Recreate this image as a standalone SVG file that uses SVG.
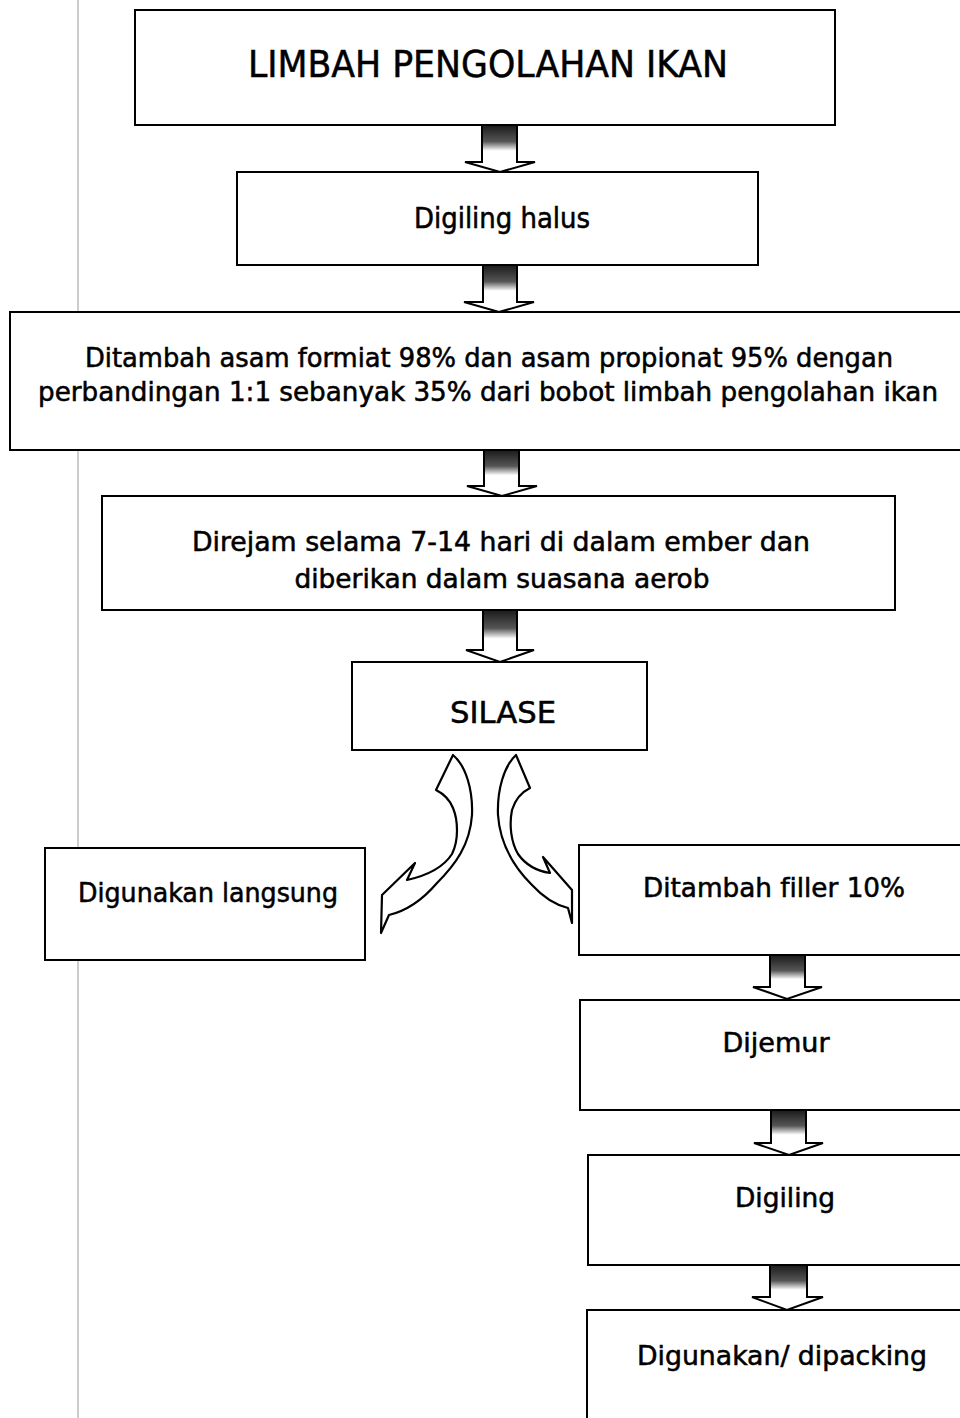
<svg xmlns="http://www.w3.org/2000/svg" width="960" height="1418" viewBox="0 0 960 1418">
<style>
.box{fill:#fff;stroke:#000;stroke-width:2}
.t{font-family:"DejaVu Sans Condensed","DejaVu Sans",sans-serif;fill:#000;stroke:#000;stroke-width:0.5;text-anchor:middle;font-size:26px;font-variant-ligatures:none}
.arr{fill:url(#g);stroke:#000;stroke-width:2;stroke-linejoin:miter}
.carr{fill:#fff;stroke:#000;stroke-width:2.2;stroke-linejoin:round}
</style>
<defs>
<linearGradient id="g" x1="0" y1="0" x2="0" y2="1">
<stop offset="0" stop-color="#1a1a1a"/>
<stop offset="0.35" stop-color="#555"/>
<stop offset="0.55" stop-color="#fff"/>
<stop offset="1" stop-color="#fff"/>
</linearGradient>
</defs>
<rect width="960" height="1418" fill="#fff"/>
<line x1="78" y1="0" x2="78" y2="1418" stroke="#999" stroke-width="1"/>

<g id="n1"><rect class="box" x="135" y="10" width="700" height="115"/><text class="t" x="488" y="77" style="font-size:38px" textLength="480" lengthAdjust="spacingAndGlyphs">LIMBAH PENGOLAHAN IKAN</text></g>
<g id="n2"><rect class="box" x="237" y="172" width="521" height="93"/><text class="t" x="502" y="228" style="font-size:28px" textLength="176" lengthAdjust="spacingAndGlyphs">Digiling halus</text></g>
<g id="n3"><rect class="box" x="10" y="312" width="960" height="138"/><text class="t" x="489" y="367" textLength="808" lengthAdjust="spacingAndGlyphs">Ditambah asam formiat 98% dan asam propionat 95% dengan</text><text class="t" x="488" y="401" textLength="900" lengthAdjust="spacingAndGlyphs">perbandingan 1:1 sebanyak 35% dari bobot limbah pengolahan ikan</text></g>
<g id="n4"><rect class="box" x="102" y="496" width="793" height="114"/><text class="t" x="501" y="551" textLength="618" lengthAdjust="spacingAndGlyphs">Direjam selama 7-14 hari di dalam ember dan</text><text class="t" x="502" y="588" textLength="415" lengthAdjust="spacingAndGlyphs">diberikan dalam suasana aerob</text></g>
<g id="n5"><rect class="box" x="352" y="662" width="295" height="88"/><text class="t" x="503" y="723" style="font-size:31px" textLength="106" lengthAdjust="spacingAndGlyphs">SILASE</text></g>
<g id="n6"><rect class="box" x="45" y="848" width="320" height="112"/><text class="t" x="208" y="902" textLength="260" lengthAdjust="spacingAndGlyphs">Digunakan langsung</text></g>
<g id="n7"><rect class="box" x="579" y="845" width="391" height="110"/><text class="t" x="774" y="897" textLength="262" lengthAdjust="spacingAndGlyphs">Ditambah filler 10%</text></g>
<g id="n8"><rect class="box" x="580" y="1000" width="390" height="110"/><text class="t" x="776" y="1052" textLength="107" lengthAdjust="spacingAndGlyphs">Dijemur</text></g>
<g id="n9"><rect class="box" x="588" y="1155" width="382" height="110"/><text class="t" x="785" y="1207" textLength="100" lengthAdjust="spacingAndGlyphs">Digiling</text></g>
<g id="n10"><rect class="box" x="587" y="1310" width="383" height="120"/><text class="t" x="782" y="1365" textLength="290" lengthAdjust="spacingAndGlyphs">Digunakan/ dipacking</text></g>

<g id="connectors">
<path class="arr" d="M482,125 L482,162 L465,162 L500,172 L535,162 L517,162 L517,125 Z"/>
<path class="arr" d="M483,265 L483,302 L464,302 L499,312 L534,302 L517,302 L517,265 Z"/>
<path class="arr" d="M484,450 L484,486 L467,486 L502,496 L537,486 L519,486 L519,450 Z"/>
<path class="arr" d="M483,610 L483,650 L466,650 L500,662 L534,650 L517,650 L517,610 Z"/>
<path class="arr" d="M770,955 L770,987 L753,987 L787,999 L822,987 L805,987 L805,955 Z"/>
<path class="arr" d="M771,1110 L771,1143 L754,1143 L789,1155 L823,1143 L806,1143 L806,1110 Z"/>
<path class="arr" d="M770,1265 L770,1297 L752,1297 L787,1310 L823,1297 L807,1297 L807,1265 Z"/>
<path class="carr" d="M453,755 C466,766 473,790 472,815 C470,845 455,865 437,883 C425,897 410,910 389,915 L381,933 L382,895 L415,863 L407,880 C425,876 443,868 452,854 C459,840 458,820 453,808 C449,798 442,793 436,790 Z"/>
<path class="carr" d="M516,755 C504,766 497,790 498,815 C500,845 515,868 532,885 C543,897 556,905 568,908 L572,923 L572,890 L543,857 L550,873 C537,871 525,864 518,854 C511,842 509,825 512,810 C515,800 522,792 530,788 Z"/>
</g>
</svg>
